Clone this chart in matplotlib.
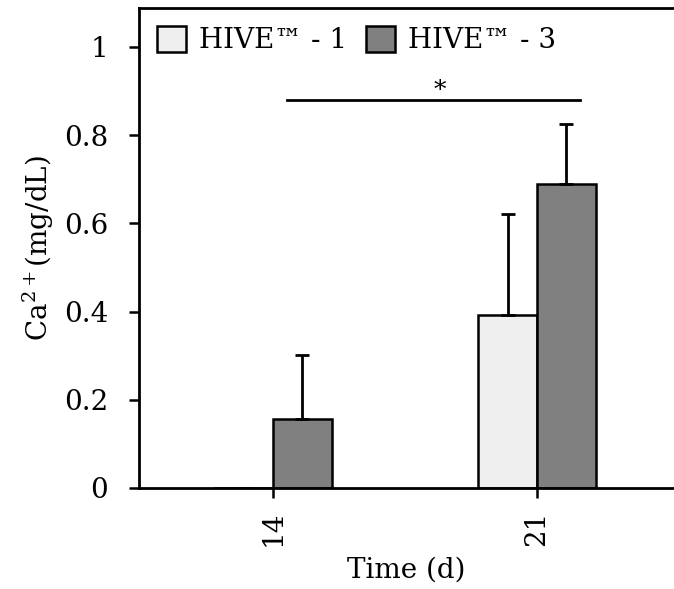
# Calcium concentration for two HIVE culture conditions at day 14 and day 21
import numpy as np
import matplotlib.pyplot as plt

plt.rcParams['font.family'] = ['DejaVu Serif']
plt.rcParams['mathtext.fontset'] = 'dejavuserif'

# Data (mean and upper SD)
days = ['14', '21']
hive1_mean = [0.0, 0.392]
hive1_sd = [0.0, 0.229]
hive3_mean = [0.156, 0.689]
hive3_sd = [0.146, 0.136]

light = '#efefef'
dark = '#808080'

fig = plt.figure(figsize=(6.74, 5.89), dpi=100)
ax = fig.add_axes([0.206, 0.1715, 0.794, 0.815])

x = np.arange(len(days))
w = 0.223

err_style = dict(ecolor='black', elinewidth=2.0, capsize=5, capthick=2.0)
ax.bar(x - w / 2, hive1_mean, w, color=light, edgecolor='black', linewidth=1.8,
       yerr=[np.zeros(len(days)), hive1_sd], error_kw=err_style, label='HIVE™ - 1')
ax.bar(x + w / 2, hive3_mean, w, color=dark, edgecolor='black', linewidth=1.8,
       yerr=[np.zeros(len(days)), hive3_sd], error_kw=err_style, label='HIVE™ - 3')

# Significance bar between groups
ax.plot([0.053, 1.163], [0.88, 0.88], color='black', linewidth=2.0)
ax.text(0.633, 0.875, '*', ha='center', va='bottom', fontsize=18)

ax.set_xlim(-0.508, 1.519)
ax.set_ylim(0, 1.088)
ax.set_xticks(x)
ax.set_xticklabels(days, rotation=90, fontsize=20)
ax.set_yticks([0, 0.2, 0.4, 0.6, 0.8, 1.0])
ax.set_yticklabels(['0', '0.2', '0.4', '0.6', '0.8', '1'], fontsize=20)
ax.tick_params(direction='out', length=7, width=1.8)
ax.tick_params(axis='y', pad=15)
ax.tick_params(axis='x', pad=9)

for side in ['left', 'bottom', 'top']:
    ax.spines[side].set_linewidth(2.0)
ax.spines['right'].set_visible(False)

ax.set_ylabel(r'Ca$^{2+}$(mg/dL)', fontsize=20, labelpad=6)
ax.set_xlabel('Time (d)', fontsize=20, labelpad=8)

ax.legend(loc='upper left', ncol=2, frameon=False, fontsize=20,
          handlelength=1.05, handleheight=1.05, handletextpad=0.45,
          columnspacing=0.7, borderaxespad=0.35, borderpad=0.3)

plt.savefig('out.png', dpi=100)
